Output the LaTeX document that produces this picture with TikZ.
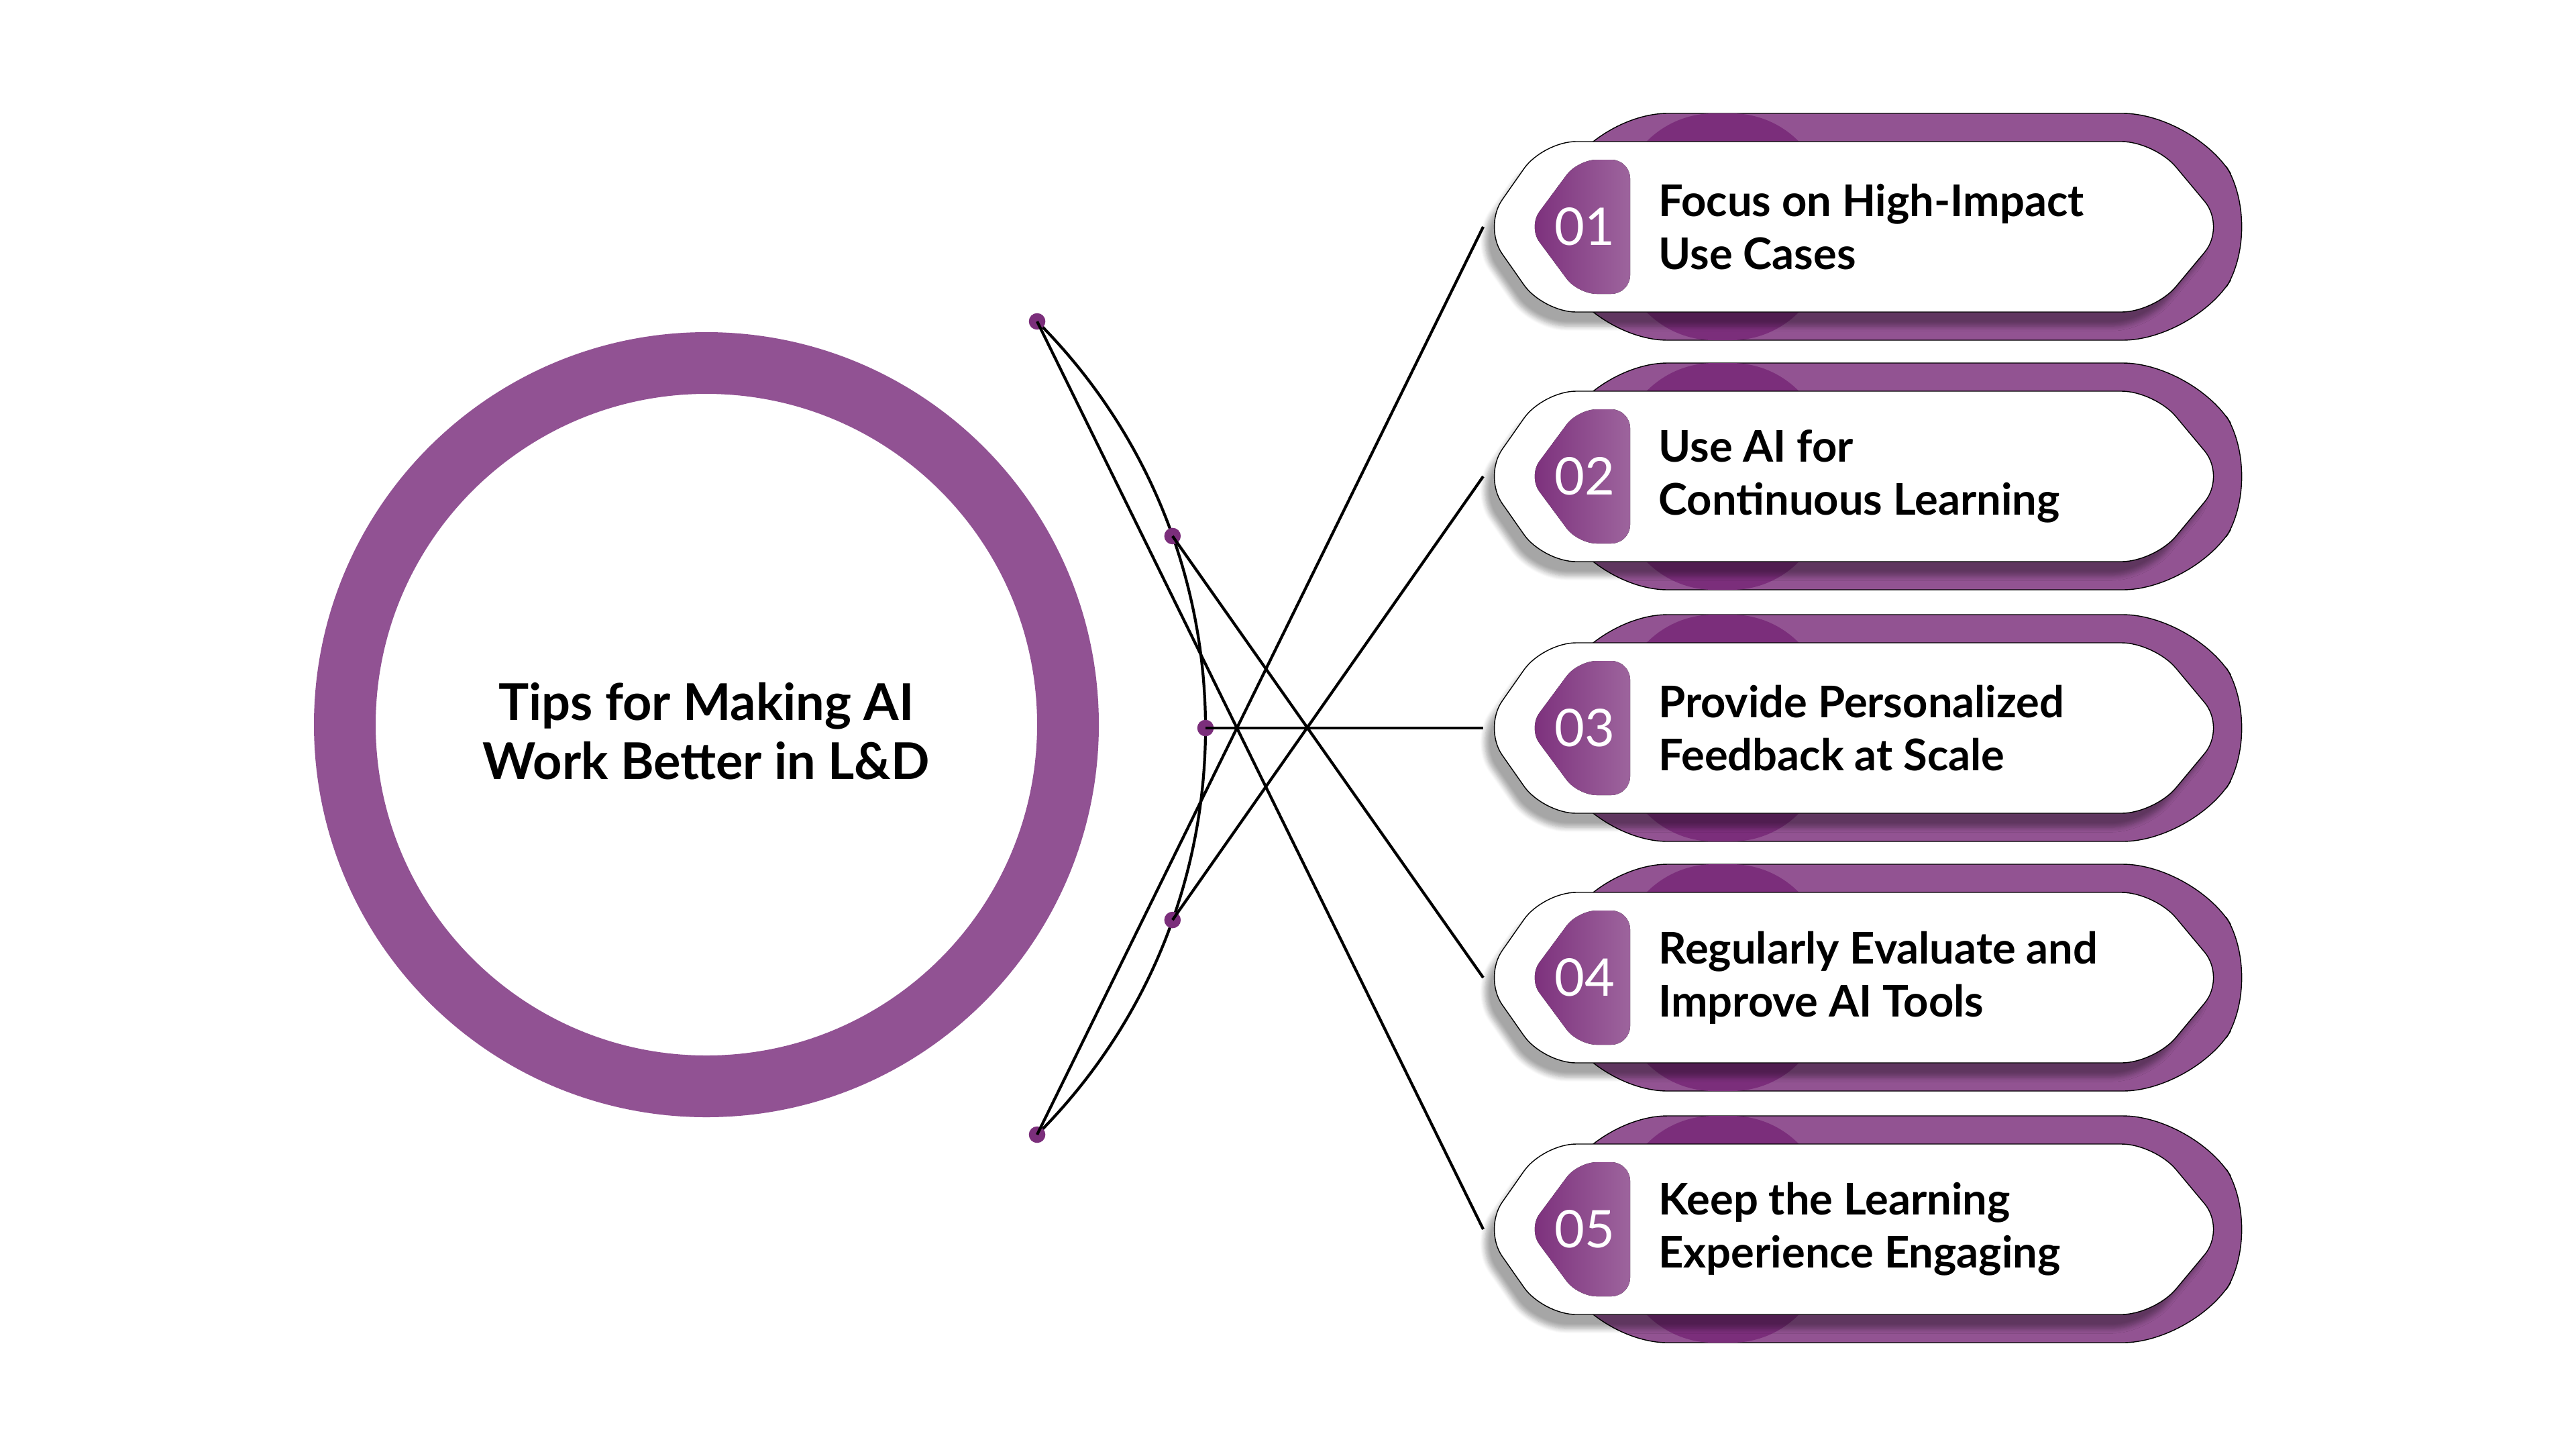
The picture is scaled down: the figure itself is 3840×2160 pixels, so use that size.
\documentclass[tikz,border=0pt]{standalone}
\usepackage{fontspec}
\setmainfont{Lato}
\usetikzlibrary{shadows.blur}
\definecolor{plight}{HTML}{925392}
\definecolor{pdark}{HTML}{7B2E7B}
\definecolor{pcirc}{HTML}{915293}
\tikzset{
 backhex/.style={fill=plight,rounded corners=30pt},
 whitehex/.style={fill=white,rounded corners=14pt,blur shadow={shadow xshift=-4pt,shadow yshift=-6pt,shadow blur steps=8,shadow opacity=35}},
 tab/.style={left color=pdark,right color=plight!90,rounded corners=8pt},
 num/.style={text=white,font=\fontsize{22}{26}\selectfont},
 itemtxt/.style={anchor=west,align=left,font=\bfseries\fontsize{18.5}{22.5}\selectfont},
 dot/.style={circle,fill=pdark,inner sep=0pt,minimum size=7pt},
 conn/.style={line width=1.2pt,black}
}
\begin{document}
\begin{tikzpicture}[x=0.01cm,y=-0.01cm]
\useasboundingbox (0,0) rectangle (3840,2160);
% circle
\fill[pcirc,even odd rule] (1053,1080) circle (585) (1053,1080) circle (493);
\node[align=center,font=\bfseries\fontsize{21.5}{25}\selectfont] (title) at (1053,1090) {Tips for Making AI\\Work Better in L\&D};
% arc
\coordinate (ac) at (940,1085);
\draw[line width=1.2pt] ([shift={(45:857)}]ac) arc[start angle=45,end angle=-45,radius=857];
\foreach \i/\cy/\ang/\ta/\tb in {1/338/45/{Focus on High-Impact}/{Use Cases},2/710/19.5/{Use AI for}/{Continuous Learning},3/1085/0/{Provide Personalized}/{Feedback at Scale},4/1457/-19.5/{Regularly Evaluate and}/{Improve AI Tools},5/1832/-45/{Keep the Learning}/{Experience Engaging}}{
 \begin{scope}[shift={(0,\cy)}]
  \draw[backhex] (2290,0) -- (2380,-169) -- (3270,-169) -- (3374,0) -- (3270,169) -- (2380,169) -- cycle;
  \begin{scope}
   \clip (2290,0) -- (2380,-169) -- (3270,-169) -- (3374,0) -- (3270,169) -- (2380,169) -- cycle;
   \fill[pdark,rounded corners=40pt] (2414,-169) rectangle (2722,169);
  \end{scope}
  \draw[whitehex] (2211,0) -- (2300,-127) -- (3212,-127) -- (3318,0) -- (3212,127) -- (2300,127) -- cycle;
  \fill[tab] (2278,0) -- (2352,-100) -- (2430,-100) -- (2430,100) -- (2352,100) -- cycle;
  \node[num] (n\i) at (2362,0) {0\i};
  \node[itemtxt] (t\i) at (2460,0) {\ta\\\tb};
  \coordinate (tip\i) at (2211,0);
 \end{scope}
 \node[dot] (d\i) at ([shift={(\ang:857)}]ac) {};
 \draw[conn] (d\i.center) -- (tip\i);
}
\end{tikzpicture}
\end{document}
